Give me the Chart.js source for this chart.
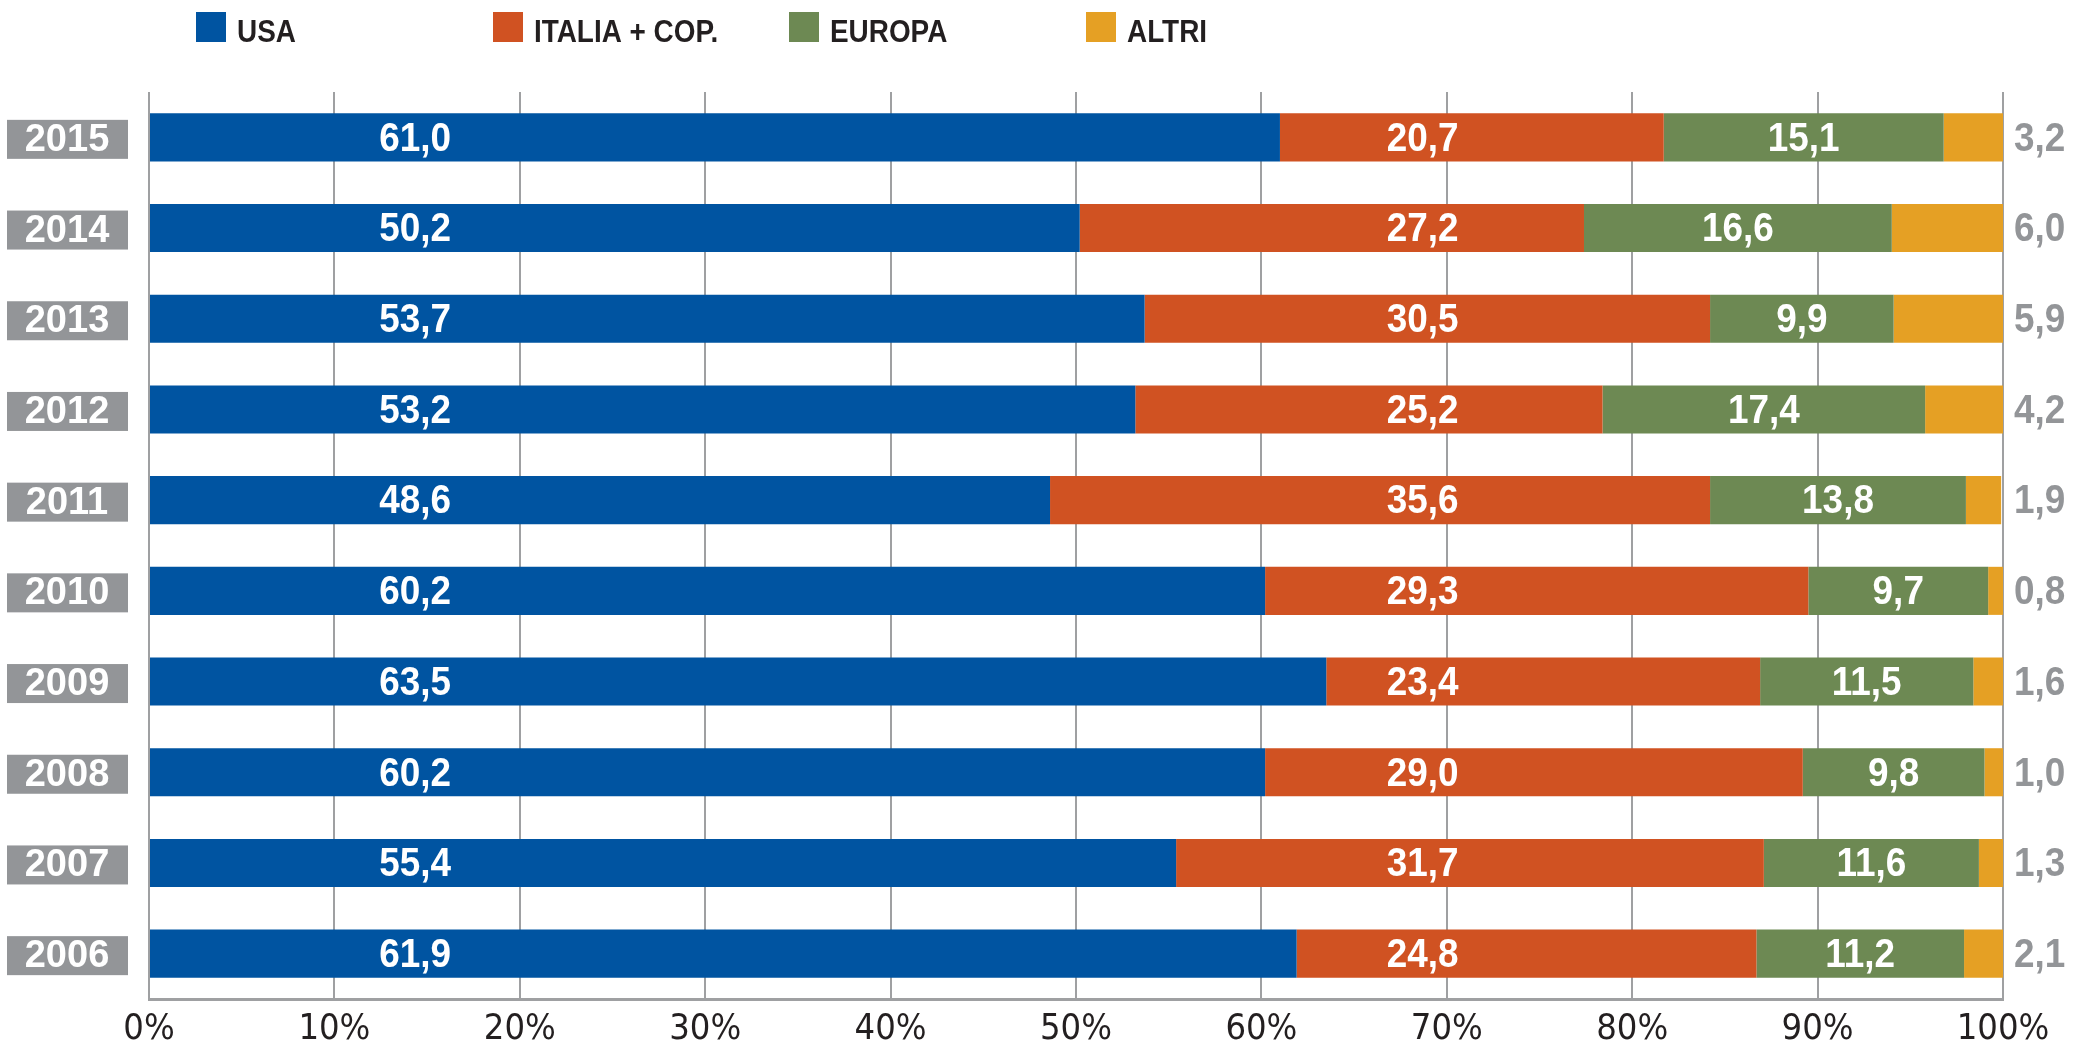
<!DOCTYPE html>
<html><head><meta charset="utf-8">
<script src="https://cdn.jsdelivr.net/npm/chart.js@4"></script>
<style>html,body{margin:0;padding:0;background:#fff}#wrap{width:2085px;height:1052px}</style>
</head><body><div id="wrap"><canvas id="c" width="2085" height="1052"></canvas></div>
<script>
const years = ['2015','2014','2013','2012','2011','2010','2009','2008','2007','2006'];
const usa = [61.0, 50.2, 53.7, 53.2, 48.6, 60.2, 63.5, 60.2, 55.4, 61.9];
const italia = [20.7, 27.2, 30.5, 25.2, 35.6, 29.3, 23.4, 29.0, 31.7, 24.8];
const europa = [15.1, 16.6, 9.9, 17.4, 13.8, 9.7, 11.5, 9.8, 11.6, 11.2];
const altri = [3.2, 6.0, 5.9, 4.2, 1.9, 0.8, 1.6, 1.0, 1.3, 2.1];
const seriesNames = ['USA', 'ITALIA + COP.', 'EUROPA', 'ALTRI'];
const xTicks = [0, 10, 20, 30, 40, 50, 60, 70, 80, 90, 100];

const colors = ['#0054a1', '#d05222', '#6d8953', '#e5a024'];
const SANS = '"Liberation Sans", Arial, sans-serif';
const COND = '"DejaVu Sans Condensed", "Liberation Sans", sans-serif';
const fmt = v => v.toFixed(1).replace('.', ',');

// draw text squeezed horizontally (condensed look) at x,y
function textSq(ctx, txt, x, y, align, sx) {
  ctx.save();
  ctx.translate(x, y);
  ctx.scale(sx, 1);
  ctx.textAlign = align;
  ctx.fillText(txt, 0, 0);
  ctx.restore();
}

const legendPlugin = {
  id: 'customLegend',
  afterDraw(chart) {
    const ctx = chart.ctx;
    const xs = [196, 493, 789, 1086];
    ctx.save();
    chart.data.datasets.forEach((ds, i) => {
      ctx.fillStyle = ds.backgroundColor;
      ctx.fillRect(xs[i], 12, 30, 30);
      ctx.fillStyle = '#231f20';
      ctx.font = 'bold 31px ' + SANS;
      ctx.textBaseline = 'alphabetic';
      textSq(ctx, ds.label, xs[i] + 41, 42, 'left', 0.9);
    });
    ctx.restore();
  }
};

const labelPlugin = {
  id: 'valueLabels',
  afterDatasetsDraw(chart) {
    const ctx = chart.ctx;
    const xs = chart.scales.x;
    const ys = chart.scales.y;
    ctx.save();
    ctx.textBaseline = 'middle';
    // year boxes
    chart.data.labels.forEach((lab, i) => {
      const cy = ys.getPixelForValue(i) + 2;
      ctx.fillStyle = '#939598';
      ctx.fillRect(7, cy - 19.5, 121, 39);
      ctx.fillStyle = '#ffffff';
      ctx.font = 'bold 38px ' + SANS;
      textSq(ctx, lab, 67, cy + 1, 'center', 1);
    });
    chart.data.datasets.forEach((ds, di) => {
      const meta = chart.getDatasetMeta(di);
      meta.data.forEach((el, i) => {
        const v = ds.data[i];
        const cy = el.y + 2;
        ctx.font = 'bold 41px ' + SANS;
        if (di === 0) { ctx.fillStyle = '#fff'; textSq(ctx, fmt(v), xs.getPixelForValue(14.35), cy, 'center', 0.9); }
        else if (di === 1) { ctx.fillStyle = '#fff'; textSq(ctx, fmt(v), xs.getPixelForValue(68.7), cy, 'center', 0.9); }
        else if (di === 2) { ctx.fillStyle = '#fff'; textSq(ctx, fmt(v), (el.x + el.base) / 2, cy, 'center', 0.9); }
        else { ctx.fillStyle = '#939598'; textSq(ctx, fmt(v), chart.chartArea.right + 11, cy, 'left', 0.9); }
      });
    });
    ctx.restore();
  }
};

new Chart(document.getElementById('c'), {
  type: 'bar',
  data: {
    labels: years,
    datasets: [
      { label: seriesNames[0], data: usa, backgroundColor: colors[0] },
      { label: seriesNames[1], data: italia, backgroundColor: colors[1] },
      { label: seriesNames[2], data: europa, backgroundColor: colors[2] },
      { label: seriesNames[3], data: altri, backgroundColor: colors[3] }
    ]
  },
  options: {
    indexAxis: 'y',
    responsive: false,
    animation: false,
    layout: { padding: { top: 92, right: 82, left: 0, bottom: 0 } },
    datasets: { bar: { barPercentage: 0.53, categoryPercentage: 1, borderWidth: 0 } },
    plugins: { legend: { display: false }, tooltip: { enabled: false } },
    scales: {
      x: {
        stacked: true, min: 0, max: 100,
        afterBuildTicks: a => { a.ticks = xTicks.map(v => ({ value: v })); },
        afterFit: a => { a.height = 53; },
        grid: { color: '#9fa0a2', lineWidth: 2, drawTicks: false },
        border: { color: '#9fa0a2', width: 3 },
        ticks: { padding: 9, color: '#231f20', font: { family: COND, size: 36, weight: 'normal' }, callback: v => v + '%' }
      },
      y: {
        stacked: true,
        afterFit: a => { a.width = 149; },
        ticks: { display: false },
        grid: { display: false },
        border: { display: false }
      }
    }
  },
  plugins: [legendPlugin, labelPlugin]
});
</script></body></html>
